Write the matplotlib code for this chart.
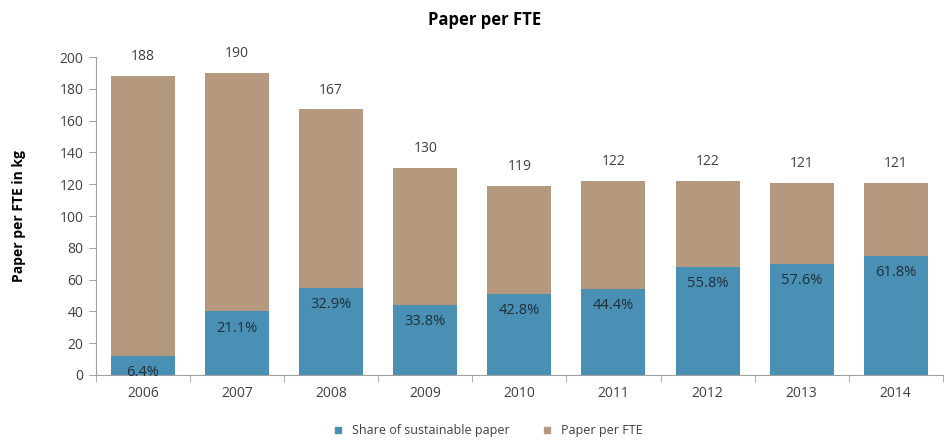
import matplotlib
matplotlib.use("Agg")
import matplotlib.pyplot as plt
from matplotlib.lines import Line2D

years = ["2006", "2007", "2008", "2009", "2010", "2011", "2012", "2013", "2014"]
paper_per_fte = [188, 190, 167, 130, 119, 122, 122, 121, 121]
sustainable_kg = [12, 40, 55, 44, 51, 54, 68, 70, 75]
share_labels = ["6.4%", "21.1%", "32.9%", "33.8%", "42.8%", "44.4%", "55.8%", "57.6%", "61.8%"]

blue = "#4a8fb4"
brown = "#b5997e"
txt = "#404040"

plt.rcParams['font.family'] = ['Open Sans', 'DejaVu Sans']

fig = plt.figure(figsize=(9.44, 4.43), dpi=100)
ax = fig.add_axes([0.1017, 0.1535, 0.897, 0.7178])

x = list(range(len(years)))
rest = [t - s for t, s in zip(paper_per_fte, sustainable_kg)]
w = 0.68
ax.bar(x, sustainable_kg, width=w, color=blue, zorder=2)
ax.bar(x, rest, bottom=sustainable_kg, width=w, color=brown, zorder=2)

for xi, t, s, lab in zip(x, paper_per_fte, sustainable_kg, share_labels):
    ax.annotate(str(t), (xi, t), xytext=(0, 14), textcoords="offset points",
                ha="center", va="center", fontsize=10, color=txt)
    ax.annotate(lab, (xi, s), xytext=(0, -12), textcoords="offset points",
                ha="center", va="center", fontsize=10.5, color="#1f2f3a", zorder=3)

ax.set_xlim(-0.5, len(years) - 0.5)
ax.set_ylim(0, 200)
ax.set_yticks(range(0, 201, 20))
ax.set_xticks(x)
ax.set_xticklabels(years)
ax.set_xticks([i - 0.5 for i in range(len(years) + 1)], minor=True)
ax.tick_params(axis="x", which="major", length=0, pad=8, labelsize=10, labelcolor=txt)
ax.tick_params(axis="x", which="minor", length=5, color="#a0a0a0", direction="out")
ax.tick_params(axis="y", length=5, color="#a0a0a0", labelsize=10, labelcolor=txt, pad=4)

for s in ["top", "right"]:
    ax.spines[s].set_visible(False)
for s in ["left", "bottom"]:
    ax.spines[s].set_color("#a0a0a0")

ax.set_ylabel("Paper per FTE in kg", fontsize=10, fontweight="bold", color="black", labelpad=24)
fig.text(0.513, 0.955, "Paper per FTE", ha="center", va="center", fontsize=12, fontweight="bold")

handles = [Line2D([0], [0], marker="s", linestyle="none", markersize=5, markerfacecolor=blue, markeredgecolor=blue),
           Line2D([0], [0], marker="s", linestyle="none", markersize=5, markerfacecolor=brown, markeredgecolor=brown)]
fig.legend(handles, ["Share of sustainable paper", "Paper per FTE"], loc="center",
           bbox_to_anchor=(0.513, 0.028), ncol=2, frameon=False, fontsize=9,
           handletextpad=0.1, columnspacing=2.0, labelcolor=txt)

fig.savefig("out.png", dpi=100)
